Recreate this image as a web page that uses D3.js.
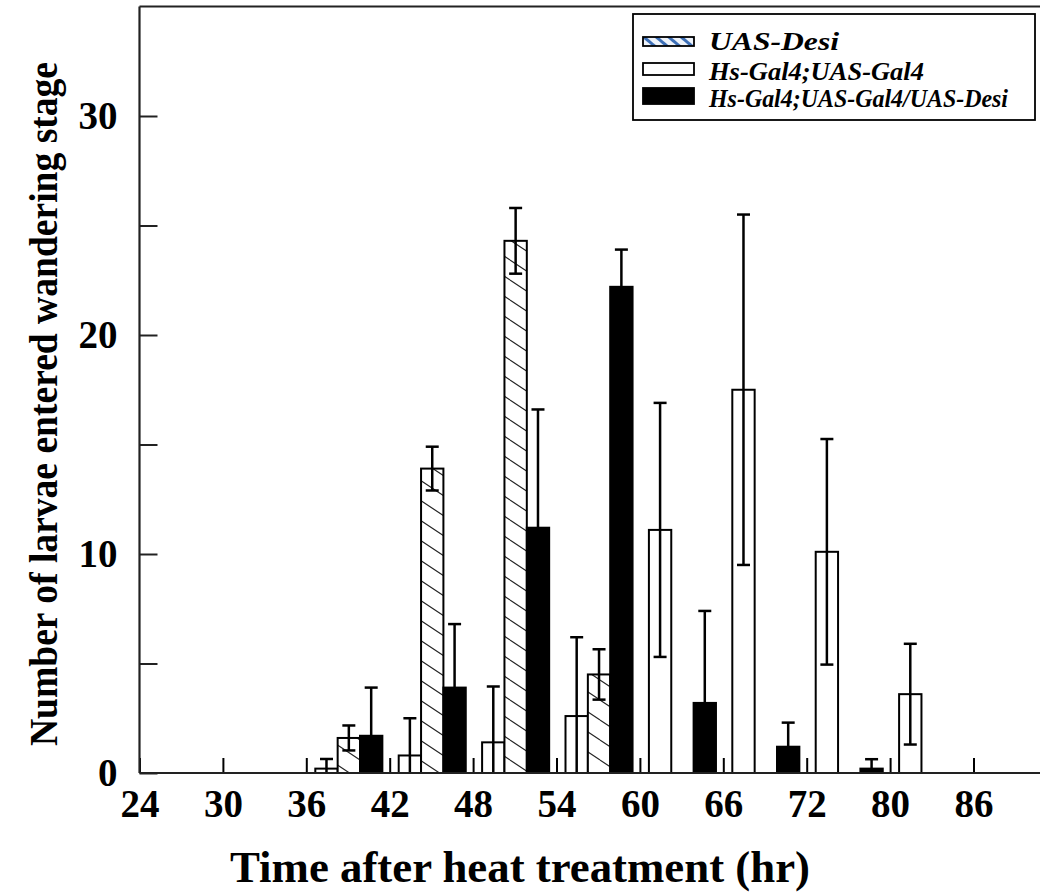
<!DOCTYPE html>
<html>
<head>
<meta charset="utf-8">
<script src="https://cdn.jsdelivr.net/npm/d3@7"></script>
<style>
  body { margin: 0; background: #fff; }
  svg { display: block; }
  text { font-family: "Liberation Serif", "Times New Roman", serif; font-weight: bold; }
</style>
</head>
<body>
<div id="chart"></div>
<script>
// time bins (hr after heat treatment)
var binLabels = ["24","30","36","42","48","54","60","66","72","80","86"];

// series values, one per bin
var uasDesi     = [0, 0, 1.6, 13.9, 24.3, 4.5, 0, 0, 0, 0, 0];
var uasDesiErr  = [0, 0, 0.57, 1.0, 1.5, 1.15, 0, 0, 0, 0, 0];
var hsGal4      = [0, 0, 0.2, 0.8, 1.4, 2.6, 11.1, 17.5, 10.1, 3.6, 0];
var hsGal4Err   = [0, 0, 0.44, 1.7, 2.55, 3.6, 5.8, 8.0, 5.15, 2.3, 0];
var hsGal4Desi    = [0, 0, 1.7, 3.9, 11.2, 22.2, 3.2, 1.2, 0.2, 0, 0];
var hsGal4DesiErr = [0, 0, 2.2, 2.9, 5.4, 1.7, 4.2, 1.1, 0.43, 0, 0];

var yTicks = [0, 5, 10, 15, 20, 25, 30];
var yLabels = [0, 10, 20, 30];

var seriesNames = ["UAS-Desi", "Hs-Gal4;UAS-Gal4", "Hs-Gal4;UAS-Gal4/UAS-Desi"];

var svg = d3.select("#chart").append("svg")
            .attr("width", 1040)
            .attr("height", 894);

var defs = svg.append("defs");

// diagonal hatch for bars
var hatch = defs.append("pattern")
                .attr("id", "hatch")
                .attr("patternUnits", "userSpaceOnUse")
                .attr("width", 30)
                .attr("height", 20);
hatch.append("rect").attr("width", 30).attr("height", 20).attr("fill", "#fff");
hatch.append("path")
     .attr("d", "M0,0 L30,20 M-15,-10 L15,10 M15,10 L45,30 M0,-20 L30,0 M0,20 L30,40")
     .attr("stroke", "#222")
     .attr("stroke-width", 1.1);

// bluish hatch for the legend swatch
var hatchLeg = defs.append("pattern")
                   .attr("id", "hatchLeg")
                   .attr("patternUnits", "userSpaceOnUse")
                   .attr("width", 8)
                   .attr("height", 8)
                   .attr("patternTransform", "rotate(-50)");
hatchLeg.append("rect").attr("width", 8).attr("height", 8).attr("fill", "#eef3fa");
hatchLeg.append("rect").attr("x", 0).attr("y", 0).attr("width", 3).attr("height", 8).attr("fill", "#3d6fb6");

var x = d3.scaleLinear()
          .domain([0, 11])
          .range([139.5, 139.5 + 83.4 * 11]);

var y = d3.scaleLinear()
          .domain([0, 35])
          .range([773, 6.5]);

var step = x(1) - x(0);
var inner = d3.scaleBand()
              .domain(["white", "hatched", "black"])
              .range([0.108 * step, 0.912 * step]);

var series = [
  {key: "white",   vals: hsGal4,     errs: hsGal4Err,     fill: "#fff"},
  {key: "hatched", vals: uasDesi,    errs: uasDesiErr,    fill: "url(#hatch)"},
  {key: "black",   vals: hsGal4Desi, errs: hsGal4DesiErr, fill: "#000"}
];

// bars
series.forEach(function(s) {
  var rows = s.vals.map(function(v, i) { return {i: i, v: v, e: s.errs[i]}; })
                   .filter(function(d) { return d.v > 0; });

  svg.append("g").selectAll("rect")
     .data(rows)
     .enter().append("rect")
     .attr("x", function(d) { return x(d.i) + inner(s.key); })
     .attr("y", function(d) { return y(d.v); })
     .attr("width", inner.bandwidth())
     .attr("height", function(d) { return y(0) - y(d.v); })
     .attr("fill", s.fill)
     .attr("stroke", "#000")
     .attr("stroke-width", 2);
});

// error bars
series.forEach(function(s) {
  var rows = s.vals.map(function(v, i) { return {i: i, v: v, e: s.errs[i]}; })
                   .filter(function(d) { return d.v > 0 && d.e > 0; });
  var g = svg.append("g").attr("stroke", "#000").attr("stroke-width", 2.5);
  rows.forEach(function(d) {
    var cx = x(d.i) + inner(s.key) + inner.bandwidth() / 2;
    var lo = Math.max(0, d.v - d.e);
    g.append("line")
     .attr("x1", cx).attr("x2", cx)
     .attr("y1", y(d.v + d.e)).attr("y2", y(lo));
    g.append("line")
     .attr("x1", cx - 6.5).attr("x2", cx + 6.5)
     .attr("y1", y(d.v + d.e)).attr("y2", y(d.v + d.e));
    if (lo > 0) {
      g.append("line")
       .attr("x1", cx - 6.5).attr("x2", cx + 6.5)
       .attr("y1", y(lo)).attr("y2", y(lo));
    }
  });
});

// axes
var xAxis = d3.axisBottom(x)
              .tickValues(d3.range(binLabels.length))
              .tickFormat(function(i) { return binLabels[i]; })
              .tickSizeInner(-15)
              .tickSizeOuter(0)
              .tickPadding(16);

var xg = svg.append("g")
            .attr("transform", "translate(0,773)")
            .call(xAxis);
xg.select(".domain").remove();
xg.selectAll("line").attr("stroke", "#000").attr("stroke-width", 2);
xg.selectAll("text")
  .attr("font-size", 39)
  .attr("fill", "#000")
  .style("font-family", "'Liberation Serif', 'Times New Roman', serif")
  .style("font-weight", "bold");

var yAxis = d3.axisLeft(y)
              .tickValues(yTicks)
              .tickFormat(function(v) { return yLabels.indexOf(v) >= 0 ? v : ""; })
              .tickSizeInner(-18)
              .tickSizeOuter(0)
              .tickPadding(22);

var yg = svg.append("g")
            .attr("transform", "translate(139.5,0)")
            .call(yAxis);
yg.select(".domain").remove();
yg.selectAll("line").attr("stroke", "#222").attr("stroke-width", 2);
yg.selectAll("text")
  .attr("font-size", 39)
  .attr("fill", "#000")
  .style("font-family", "'Liberation Serif', 'Times New Roman', serif")
  .style("font-weight", "bold");

// frame
var frame = svg.append("g").attr("stroke", "#222").attr("stroke-width", 2.2).attr("fill", "none");
frame.append("line").attr("x1", 139.5).attr("x2", 139.5).attr("y1", y(35)).attr("y2", y(0));
frame.append("line").attr("x1", 139.5).attr("x2", 1040).attr("y1", y(0)).attr("y2", y(0));
frame.append("line").attr("x1", 139.5).attr("x2", 1040).attr("y1", y(35)).attr("y2", y(35));

// titles
svg.append("text")
   .attr("x", 520)
   .attr("y", 882)
   .attr("text-anchor", "middle")
   .attr("font-size", 44)
   .attr("textLength", 580)
   .attr("lengthAdjust", "spacingAndGlyphs")
   .text("Time after heat treatment (hr)");

svg.append("text")
   .attr("transform", "translate(57,404) rotate(-90)")
   .attr("text-anchor", "middle")
   .attr("font-size", 39)
   .attr("textLength", 684)
   .attr("lengthAdjust", "spacingAndGlyphs")
   .text("Number of larvae entered wandering stage");

// legend
var legend = svg.append("g");
legend.append("rect")
      .attr("x", 633).attr("y", 14)
      .attr("width", 402).attr("height", 106)
      .attr("fill", "#fff")
      .attr("stroke", "#000")
      .attr("stroke-width", 1.8);

var swatches = [
  {y: 37, h: 9,  fill: "url(#hatchLeg)", base: 50},
  {y: 63, h: 12, fill: "#fff",           base: 80},
  {y: 88, h: 16, fill: "#000",           base: 107}
];

swatches.forEach(function(sw, i) {
  legend.append("rect")
        .attr("x", 643).attr("y", sw.y)
        .attr("width", 51).attr("height", sw.h)
        .attr("fill", sw.fill)
        .attr("stroke", "#000")
        .attr("stroke-width", 1.8);
  legend.append("text")
        .attr("x", 709)
        .attr("y", sw.base)
        .attr("font-size", 25)
        .attr("textLength", [130, 215, 299][i])
        .attr("lengthAdjust", "spacingAndGlyphs")
        .style("font-style", "italic")
        .text(seriesNames[i]);
});
</script>
</body>
</html>
